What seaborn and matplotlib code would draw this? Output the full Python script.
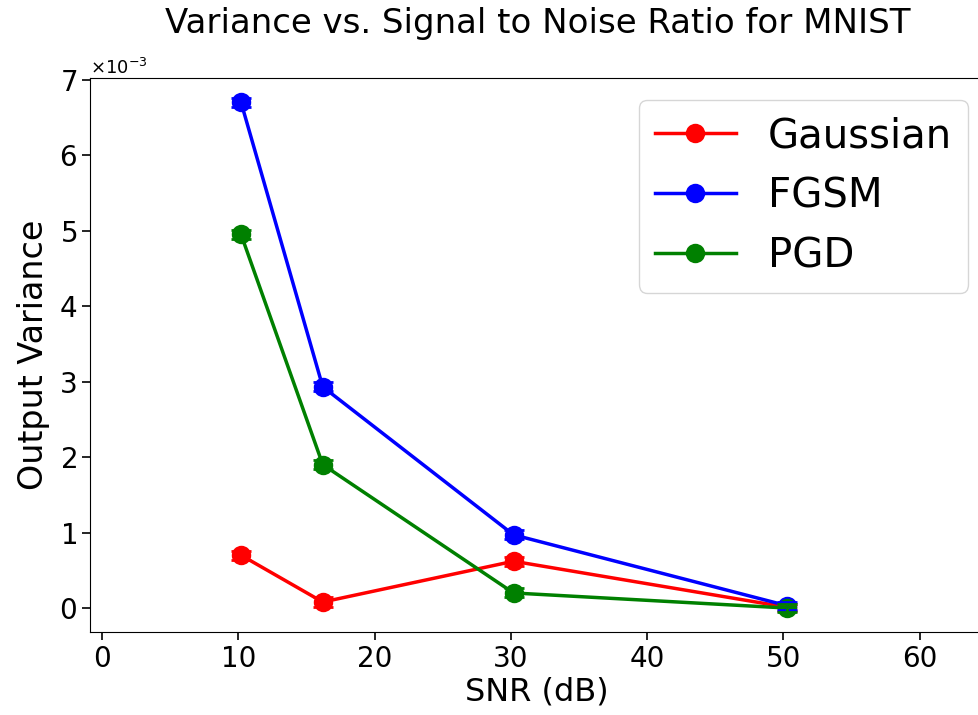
import pandas as pd
import numpy as np
import seaborn as sns
import matplotlib.pyplot as plt

# values
snr_db = [10.2, 16.2, 30.2, 50.3]
gaussian_var = [0.70e-3, 0.08e-3, 0.62e-3, 0.01e-3]
fgsm_var = [6.70e-3, 2.93e-3, 0.97e-3, 0.03e-3]
pgd_var = [4.95e-3, 1.90e-3, 0.20e-3, 0.00e-3]
gaussian_err = [0.06e-3, 0.06e-3, 0.06e-3, 0.05e-3]
fgsm_err = [0.06e-3, 0.06e-3, 0.06e-3, 0.05e-3]
pgd_err = [0.06e-3, 0.06e-3, 0.06e-3, 0.05e-3]
methods = ['Gaussian', 'FGSM', 'PGD']
colors = ['red', 'blue', 'green']


def build_frame():
    rows = []
    for name, vals in zip(methods, [gaussian_var, fgsm_var, pgd_var]):
        for x, y in zip(snr_db, vals):
            rows.append({'SNR': x, 'Variance': y, 'Method': name})
    return pd.DataFrame(rows)


def make_plot(df):
    plt.rcParams['font.family'] = ['DejaVu Sans']
    fig = plt.figure(figsize=(9.79, 7.15), dpi=100)
    # axes runs past the right edge like the cropped original
    ax = fig.add_axes([90 / 979, 83 / 715, 1000 / 979, 554 / 715])

    sns.lineplot(data=df, x='SNR', y='Variance', hue='Method',
                 palette=colors, marker='o', markersize=14,
                 markeredgewidth=0, linewidth=2.5, ax=ax)

    for vals, errs, c in zip([gaussian_var, fgsm_var, pgd_var],
                             [gaussian_err, fgsm_err, pgd_err], colors):
        ax.errorbar(snr_db, vals, yerr=errs, fmt='none', ecolor=c,
                    capsize=7, capthick=2, elinewidth=2, linestyle='--')

    ax.set_xlim(-0.88, 72.5)
    ax.set_ylim(-0.317e-3, 7.02e-3)
    ax.set_xticks([0, 10, 20, 30, 40, 50, 60])
    ax.ticklabel_format(axis='y', style='sci', scilimits=(0, 0), useMathText=True)
    ax.yaxis.get_offset_text().set_fontsize(13)
    ax.tick_params(labelsize=20, length=6, width=1.2)

    # title is centred on the visible part of the figure
    fig.suptitle('Variance vs. Signal to Noise Ratio for MNIST', fontsize=24.5,
                 x=538 / 979, y=1 - 7 / 715, va='top')
    ax.set_xlabel('SNR (dB)', fontsize=23)
    ax.xaxis.set_label_coords(0.447, -0.08)
    ax.set_ylabel('Output Variance', fontsize=24, labelpad=6)

    ax.legend(fontsize=29, loc='upper right', borderaxespad=0,
              bbox_to_anchor=(968 / 979, 1 - 100 / 715),
              bbox_transform=fig.transFigure, handlelength=2.0)

    fig.savefig('out.png', dpi=100)


def main():
    df = build_frame()
    make_plot(df)


if __name__ == "__main__":
    main()
